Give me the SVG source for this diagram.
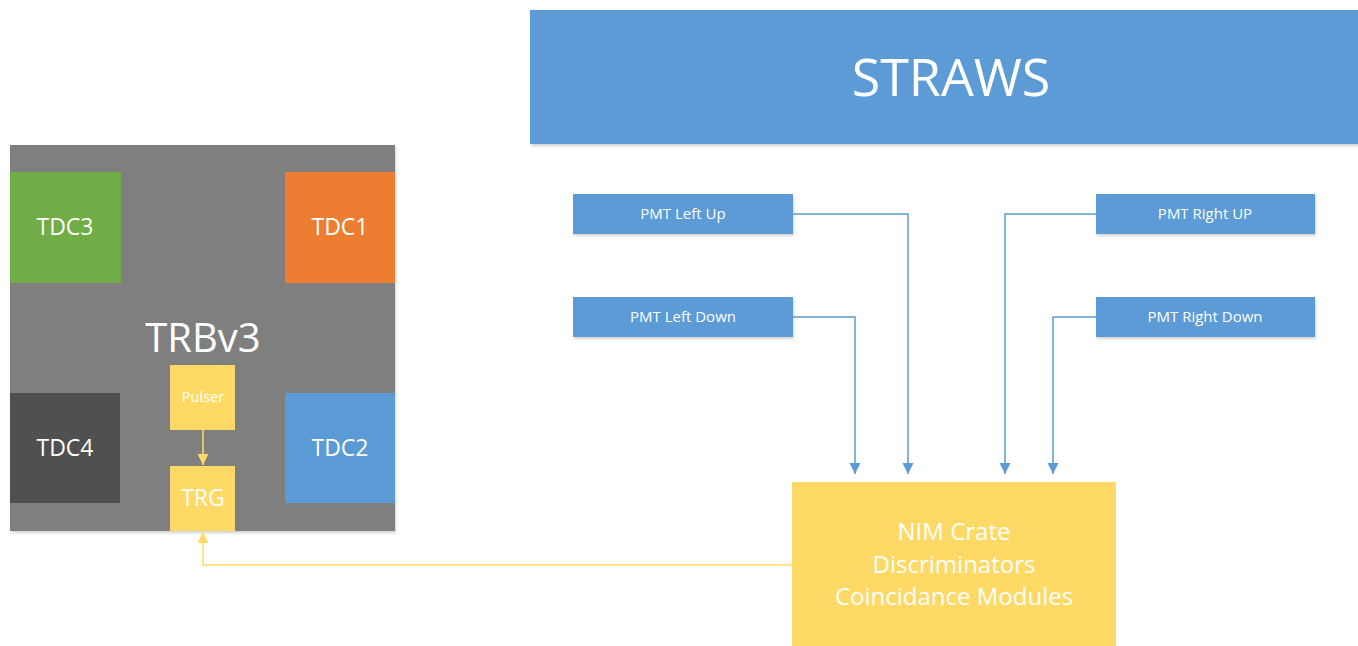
<svg xmlns="http://www.w3.org/2000/svg" width="1358" height="646" viewBox="0 0 1358 646">
  <style>
    .lbl { font-family: "Open Sans", "Noto Sans", sans-serif; fill: #ffffff; text-anchor: middle; }
    .blue { fill: #5b9bd5; }
    .yellow { fill: #ffd966; }
    .wire-b { fill: none; stroke: #5b9bd5; stroke-width: 1.5; }
    .wire-y { fill: none; stroke: #ffd966; stroke-width: 1.5; }
  </style>
  <defs>
    <filter id="shade" x="-5%" y="-5%" width="115%" height="120%">
      <feDropShadow dx="1" dy="2" stdDeviation="1.5" flood-color="#000" flood-opacity="0.18"/>
    </filter>
    <marker id="ah-b" viewBox="0 0 10 10" refX="10" refY="5" markerWidth="11" markerHeight="12" markerUnits="userSpaceOnUse" orient="auto">
      <path d="M0,0 L10,5 L0,10 z" fill="#5b9bd5"/>
    </marker>
    <marker id="ah-y" viewBox="0 0 10 10" refX="10" refY="5" markerWidth="11" markerHeight="12" markerUnits="userSpaceOnUse" orient="auto">
      <path d="M0,0 L10,5 L0,10 z" fill="#ffd966"/>
    </marker>
  </defs>

  <rect width="1358" height="646" fill="#ffffff"/>

  <!-- TRBv3 board -->
  <g id="trbv3">
    <rect x="10" y="145" width="385" height="386" fill="#7f7f7f" filter="url(#shade)"/>
    <text class="lbl" x="203" y="352" font-size="40">TRBv3</text>
  </g>
  <g id="tdc3">
    <rect x="10" y="172" width="111" height="111" fill="#70ad47"/>
    <text class="lbl" x="65" y="235" font-size="23">TDC3</text>
  </g>
  <g id="tdc1">
    <rect x="285" y="172" width="110" height="111" fill="#ed7d31"/>
    <text class="lbl" x="340" y="235" font-size="23">TDC1</text>
  </g>
  <g id="tdc4">
    <rect x="10" y="393" width="110" height="110" fill="#505050"/>
    <text class="lbl" x="65" y="456" font-size="23">TDC4</text>
  </g>
  <g id="tdc2">
    <rect x="285" y="393" width="110" height="110" class="blue"/>
    <text class="lbl" x="340" y="456" font-size="23">TDC2</text>
  </g>
  <g id="pulser">
    <rect x="170" y="365" width="65" height="65" class="yellow"/>
    <text class="lbl" x="203" y="402" font-size="14.5">Pulser</text>
  </g>
  <g id="trg">
    <rect x="170" y="466" width="65" height="65" class="yellow"/>
    <text class="lbl" x="203" y="506" font-size="23">TRG</text>
  </g>

  <!-- Detector banner -->
  <g id="straws">
    <rect x="530" y="10" width="830" height="134" class="blue" filter="url(#shade)"/>
    <text class="lbl" x="951" y="96" font-size="52">STRAWS</text>
  </g>

  <!-- Photomultipliers -->
  <g id="pmt-left-up">
    <rect x="573" y="194" width="220" height="40" class="blue" filter="url(#shade)"/>
    <text class="lbl" x="683" y="219" font-size="15">PMT Left Up</text>
  </g>
  <g id="pmt-left-down">
    <rect x="573" y="297" width="220" height="40" class="blue" filter="url(#shade)"/>
    <text class="lbl" x="683" y="322" font-size="15">PMT Left Down</text>
  </g>
  <g id="pmt-right-up">
    <rect x="1096" y="194" width="219" height="40" class="blue" filter="url(#shade)"/>
    <text class="lbl" x="1205" y="219" font-size="15">PMT Right UP</text>
  </g>
  <g id="pmt-right-down">
    <rect x="1096" y="297" width="219" height="40" class="blue" filter="url(#shade)"/>
    <text class="lbl" x="1205" y="322" font-size="15">PMT Right Down</text>
  </g>

  <!-- NIM electronics -->
  <g id="nim">
    <rect x="792" y="482" width="324" height="170" class="yellow"/>
    <text class="lbl" x="954" y="540" font-size="24">NIM Crate</text>
    <text class="lbl" x="954" y="573" font-size="24">Discriminators</text>
    <text class="lbl" x="954" y="605" font-size="24">Coincidance Modules</text>
  </g>

  <!-- Signal paths -->
  <g id="connectors">
    <path class="wire-b" d="M793,214 H908 V474" marker-end="url(#ah-b)"/>
    <path class="wire-b" d="M793,317 H855 V474" marker-end="url(#ah-b)"/>
    <path class="wire-b" d="M1096,214 H1005 V474" marker-end="url(#ah-b)"/>
    <path class="wire-b" d="M1096,317 H1053 V474" marker-end="url(#ah-b)"/>
    <path class="wire-y" d="M203,430 V465" marker-end="url(#ah-y)"/>
    <path class="wire-y" d="M792,565 H203 V532" marker-end="url(#ah-y)"/>
  </g>
</svg>
